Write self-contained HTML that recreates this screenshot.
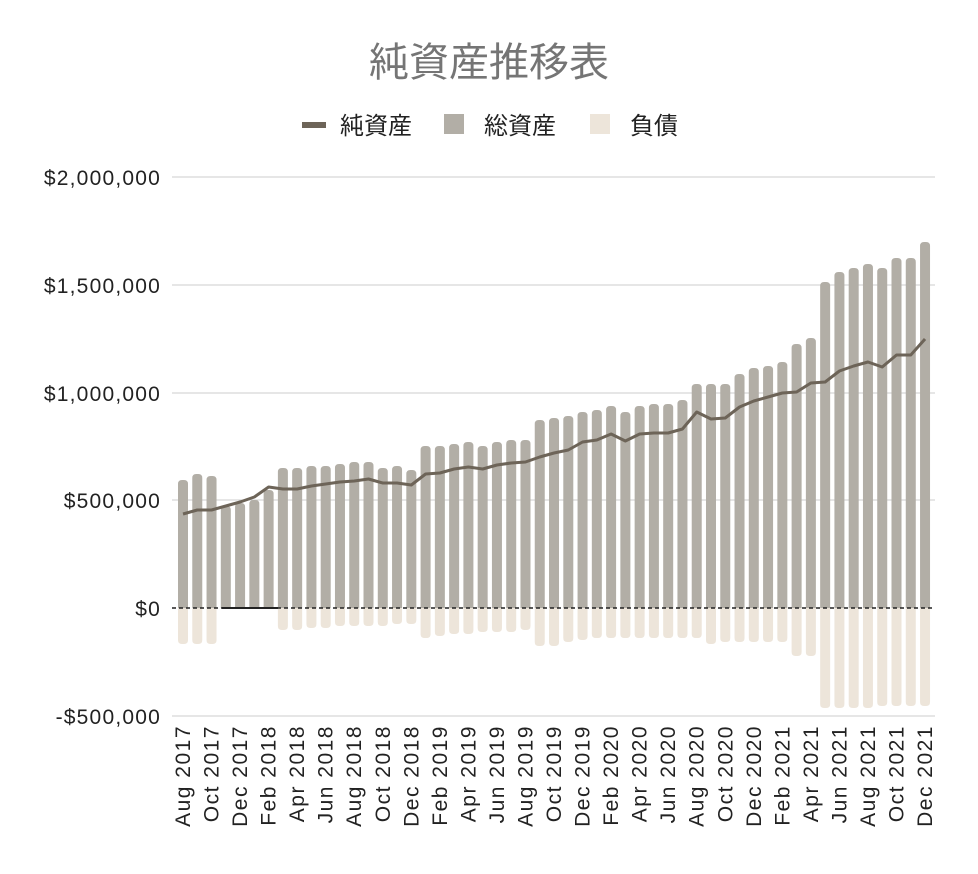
<!DOCTYPE html>
<html><head><meta charset="utf-8"><style>
body{margin:0;background:#fff;}
svg{display:block;font-family:"Liberation Sans","Noto Sans CJK JP",sans-serif;}
</style></head><body>
<svg id="c" width="978" height="874" xmlns="http://www.w3.org/2000/svg">
<text x="489" y="76" text-anchor="middle" font-size="40" fill="#757575">純資産推移表</text>
<rect x="302" y="122" width="24" height="6" fill="#6d6458"/>
<text x="340" y="134" font-size="24" fill="#222">純資産</text>
<rect x="444" y="114" width="20" height="20" fill="#b2aea6"/>
<text x="484" y="134" font-size="24" fill="#222">総資産</text>
<rect x="590" y="114" width="20" height="20" fill="#ede5da"/>
<text x="630" y="134" font-size="24" fill="#222">負債</text>
<g stroke="#cccccc" stroke-width="1">
<line x1="172" x2="935" y1="177" y2="177"/><line x1="172" x2="935" y1="285" y2="285"/>
<line x1="172" x2="935" y1="393" y2="393"/><line x1="172" x2="935" y1="500" y2="500"/>
<line x1="172" x2="935" y1="716" y2="716"/>
</g>
<g font-size="21" letter-spacing="1.2" fill="#222" text-anchor="end">
<text x="161" y="185">$2,000,000</text><text x="161" y="293">$1,500,000</text>
<text x="161" y="401">$1,000,000</text><text x="161" y="508">$500,000</text>
<text x="161" y="616">$0</text><text x="161" y="724">-$500,000</text>
</g>
<g id="bars"></g>
<g id="labels" font-size="21" letter-spacing="1.5" fill="#222" text-anchor="end"></g>
</svg>
<script>
var tops=[480,474,476,506,503,500,490,468,468,466,466,464,462,462,468,466,470,446,446,444,442,446,442,440,440,420,418,416,412,410,406,412,406,404,404,400,384,384,384,374,368,366,362,344,338,282,272,268,264,268,258,258,242];
var bots=[644,644,644,608,608,608,608,630,630,628,628,626,626,626,626,624,624,638,636,634,634,632,632,632,630,646,646,642,640,638,638,638,638,638,638,638,638,644,642,642,642,642,642,656,656,708,708,708,708,706,706,706,706];
var net=[514,510,510,506,502,497,487,489,489,486,484,482,481,479,483,483,485,474,473,469,467,469,465,463,462,457,453,450,442,440,434,441,434,433,433,429,412,419,418,407,401,397,393,392,383,382,371,366,362,367,355,355,339];
var m=["Jan","Feb","Mar","Apr","May","Jun","Jul","Aug","Sep","Oct","Nov","Dec"];
var Z=608,s="",L="";
function cx(i){return 183+i*14.27;}
for(var i=0;i<53;i++){
 var x=cx(i)-5,t=tops[i],r=4;
 s+='<path d="M'+x+' '+Z+'V'+(t+r)+'Q'+x+' '+t+' '+(x+r)+' '+t+'H'+(x+10-r)+'Q'+(x+10)+' '+t+' '+(x+10)+' '+(t+r)+'V'+Z+'Z" fill="#b2aea6"/>';
 var b=bots[i];
 if(b>Z+1) s+='<path d="M'+x+' '+Z+'V'+(b-r)+'Q'+x+' '+b+' '+(x+r)+' '+b+'H'+(x+10-r)+'Q'+(x+10)+' '+b+' '+(x+10)+' '+(b-r)+'V'+Z+'Z" fill="#ede5da"/>';
 if(i%2==0){var mi=(7+i)%12,y=2017+Math.floor((7+i)/12);
  var lx=cx(i)+7;
  L+='<text transform="translate('+lx+',725) rotate(-90)">'+m[mi]+' '+y+'</text>';}
}
s+='<line x1="172" x2="935" y1="608" y2="608" stroke="#222" stroke-width="1.5" stroke-dasharray="4,3"/>';
s+='<line x1="222" x2="278" y1="608" y2="608" stroke="#222" stroke-width="2"/>';
var p="";for(var i=0;i<53;i++)p+=(i?"L":"M")+cx(i)+" "+net[i];
s+='<path d="'+p+'" fill="none" stroke="#6d6458" stroke-width="3" stroke-linejoin="round"/>';
document.getElementById("bars").innerHTML=s;
document.getElementById("labels").innerHTML=L;
</script>
</body></html>
